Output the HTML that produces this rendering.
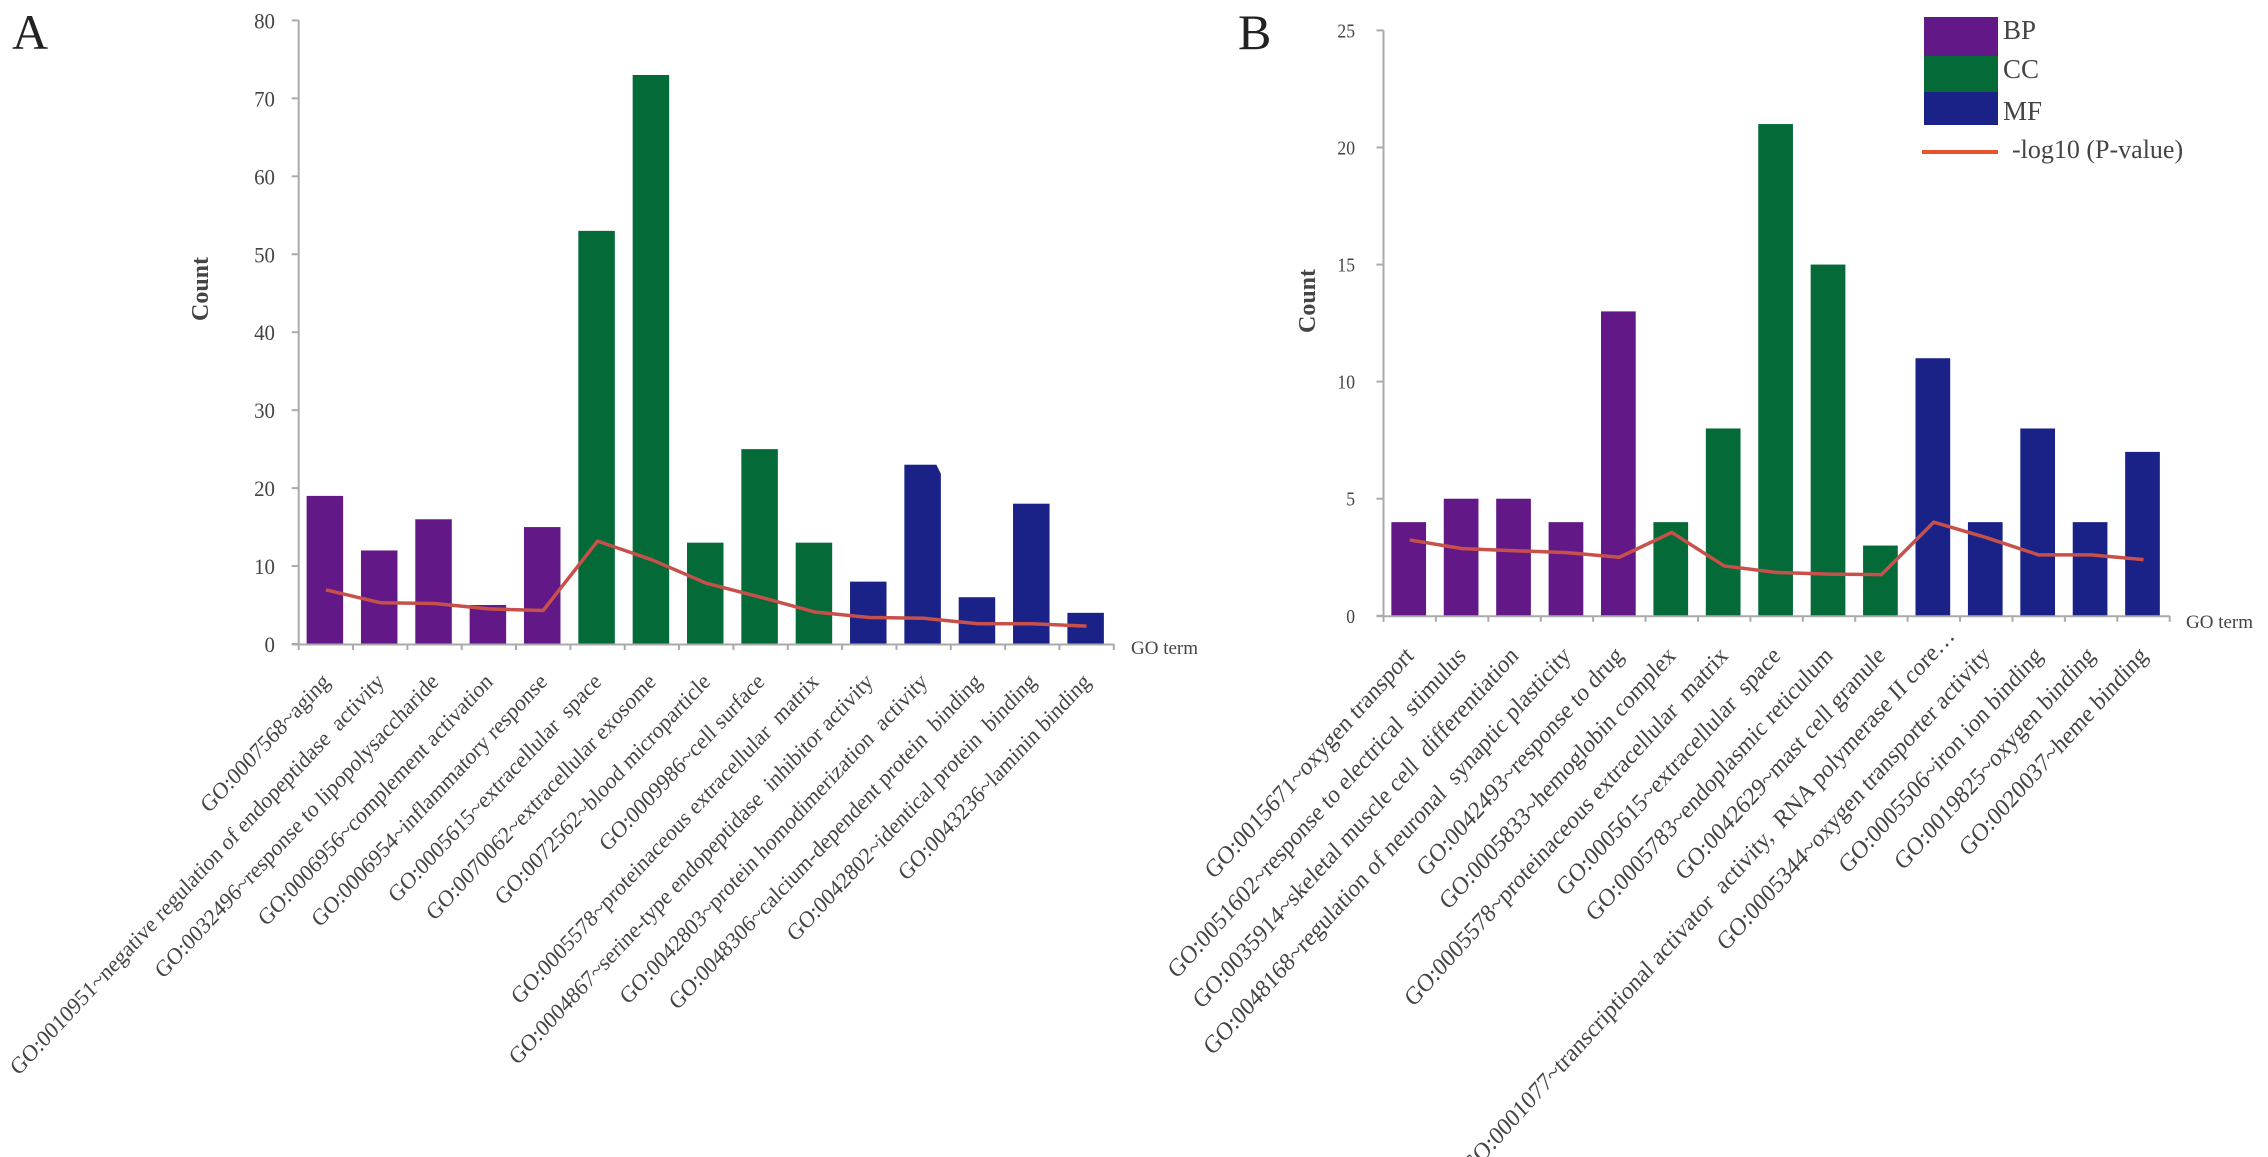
<!DOCTYPE html>
<html lang="en">
<head>
<meta charset="utf-8">
<title>GO term enrichment charts</title>
<style>
html,body{margin:0;padding:0;background:#fff;width:2268px;height:1157px;overflow:hidden}
svg{display:block;font-family:"Liberation Serif",serif}
text{fill:#444}
</style>
</head>
<body>
<svg id="figure" width="2268" height="1157" viewBox="0 0 2268 1157" xmlns="http://www.w3.org/2000/svg">
  <text x="12" y="49" font-size="50" style="fill:#222">A</text>
  <text x="1238" y="49" font-size="50" style="fill:#222">B</text>
  <g id="panelA"></g>
  <g id="panelB"></g>
  <g>
    <rect x="1924" y="17" width="74" height="39" fill="#621887"/>
    <rect x="1924" y="56" width="74" height="36" fill="#046a38"/>
    <rect x="1924" y="92" width="74" height="33" fill="#1a2287"/>
    <line x1="1922" y1="152" x2="1998" y2="152" stroke="#e8532b" stroke-width="4"/>
    <text x="2003" y="39" font-size="27">BP</text>
    <text x="2003" y="78" font-size="27">CC</text>
    <text x="2003" y="120" font-size="27">MF</text>
    <text x="2012" y="158" font-size="26">-log10 (P-value)</text>
  </g>
</svg>
<script>
const categoriesA = ["GO:0007568~aging","GO:0010951~negative regulation of endopeptidase  activity","GO:0032496~response to lipopolysaccharide","GO:0006956~complement activation","GO:0006954~inflammatory response","GO:0005615~extracellular  space","GO:0070062~extracellular exosome","GO:0072562~blood microparticle","GO:0009986~cell surface","GO:0005578~proteinaceous extracellular  matrix","GO:0004867~serine-type endopeptidase  inhibitor activity","GO:0042803~protein homodimerization  activity","GO:0048306~calcium-dependent protein  binding","GO:0042802~identical protein  binding","GO:0043236~laminin binding"];
const groupsA = ["BP","BP","BP","BP","BP","CC","CC","CC","CC","CC","MF","MF","MF","MF","MF"];
const countsA = [19,12,16,5,15,53,73,13,25,13,8,23,6,18,4];
const pvalueA = [6.95,5.3,5.2,4.5,4.3,13.2,10.8,7.8,6,4.1,3.4,3.3,2.6,2.6,2.3];
const ticksA = [0,10,20,30,40,50,60,70,80];

const categoriesB = ["GO:0015671~oxygen transport","GO:0051602~response to electrical  stimulus","GO:0035914~skeletal muscle cell  differentiation","GO:0048168~regulation of neuronal  synaptic plasticity","GO:0042493~response to drug","GO:0005833~hemoglobin complex","GO:0005578~proteinaceous extracellular  matrix","GO:0005615~extracellular  space","GO:0005783~endoplasmic reticulum","GO:0042629~mast cell granule","GO:0001077~transcriptional activator  activity,  RNA polymerase II core…","GO:0005344~oxygen transporter activity","GO:0005506~iron ion binding","GO:0019825~oxygen binding","GO:0020037~heme binding"];
const groupsB = ["BP","BP","BP","BP","BP","CC","CC","CC","CC","CC","MF","MF","MF","MF","MF"];
const countsB = [4,5,5,4,13,4,8,21,15,3,11,4,8,4,7];
const pvalueB = [3.24,2.87,2.78,2.7,2.5,3.56,2.13,1.85,1.78,1.76,4,3.34,2.6,2.6,2.4];
const ticksB = [0,5,10,15,20,25];

const groupColors = {BP:"#621887",CC:"#046a38",MF:"#1a2287"};
const NS = "http://www.w3.org/2000/svg";

function make(parent, tag, attrs, txt){
  const el = document.createElementNS(NS, tag);
  for (const k in attrs) el.setAttribute(k, attrs[k]);
  if (txt !== undefined) {
    el.textContent = txt;
    el.setAttribute("xml:space","preserve");
    el.style.whiteSpace = "pre";
  }
  parent.appendChild(el);
  return el;
}

function drawChart(o){
  const g = document.getElementById(o.id);
  const n = o.categories.length;
  const step = (o.x1 - o.x0) / n;
  const xCenter = i => o.x0 + step * (i + 0.5);
  const yScale = v => o.y0 - (v / o.max) * (o.y0 - o.yTop);

  o.counts.forEach((v,i)=>{
    const b = make(g,"rect",{x:xCenter(i)-o.barW/2-1,y:yScale(v),width:o.barW,height:o.y0-yScale(v),fill:groupColors[o.groups[i]]});
    
    
  });

  if (o.notchIndex !== undefined){
    const r = xCenter(o.notchIndex)+o.barW/2-1, t = yScale(o.counts[o.notchIndex]);
    const notch = make(g,"polygon",{points:`${r-5},${t-1} ${r+1},${t-1} ${r+1},${t+9} ${r},${t+9}`,fill:"#fff"});
    
    
  }

  const yAxis = make(g,"line",{x1:o.x0,y1:o.yTop,x2:o.x0,y2:o.y0,stroke:"#aaa","stroke-width":2});
  
  
  const xAxis = make(g,"line",{x1:o.x0-7,y1:o.y0+0.5,x2:o.x1,y2:o.y0+0.5,stroke:"#aaa","stroke-width":2});
  
  

  for (let i=0;i<=n;i++){
    const t = make(g,"line",{x1:o.x0+step*i,y1:o.y0,x2:o.x0+step*i,y2:o.y0+6,stroke:"#aaa","stroke-width":2});
    
    
  }
  o.ticks.forEach(v=>{
    const t = make(g,"line",{x1:o.x0-7,y1:yScale(v),x2:o.x0,y2:yScale(v),stroke:"#aaa","stroke-width":2});
    
    
    const l = make(g,"text",{"text-anchor":"end","font-size":o.tickFont,transform:`translate(${o.tickX},${yScale(v)+o.tickDy}) scale(${o.tickScale},1)`},String(v));
    
    
  });

  const pts = o.pvalue.map((v,i)=>`${xCenter(i)},${yScale(v * o.max / o.lineMax)}`).join(" ");
  const line = make(g,"polyline",{points:pts,fill:"none",stroke:"#c8504a","stroke-width":3.5,"stroke-linejoin":"round"});
  
  

  o.categories.forEach((c,i)=>{
    const extra = (o.labelExtra && o.labelExtra[i]) || [0,0];
    const l = make(g,"text",{"text-anchor":"end","font-size":o.labelFont,transform:`translate(${xCenter(i)+o.labelDx+extra[0]},${o.labelY+extra[1]}) rotate(${o.labelAngle}) skewX(${o.labelSkew})`},c);
    
    
  });

  const yt = make(g,"text",{"text-anchor":"middle","font-size":24,"font-weight":"bold",transform:`translate(${o.countX},${o.countY}) rotate(-90)`},"Count");
  
  
  const xt = make(g,"text",{x:o.goX,y:o.goY,"font-size":19},"GO term");
  
  
}

drawChart({id:"panelA",categories:categoriesA,groups:groupsA,counts:countsA,pvalue:pvalueA,ticks:ticksA,max:80,lineMax:80,
  x0:298.7,x1:1113.8,y0:644,yTop:20.4,barW:36.5,notchIndex:11,tickFont:22,tickScale:0.95,tickX:275,tickDy:8,
  labelFont:22.4,labelAngle:-47,labelSkew:-5,labelDx:5,labelY:683,countX:208,countY:289,goX:1131,goY:654});
drawChart({id:"panelB",categories:categoriesB,groups:groupsB,counts:countsB,pvalue:pvalueB,ticks:ticksB,max:25,lineMax:25,
  x0:1383.5,x1:2169.7,y0:615.8,yTop:30.4,barW:34.7,tickFont:20,tickScale:0.88,tickX:1355,tickDy:7,
  labelFont:24,labelAngle:-48,labelSkew:-6,labelDx:5,labelY:657,labelExtra:{10:[17,-20]},countX:1315,countY:301,goX:2186,goY:628});
</script>
</body>
</html>
